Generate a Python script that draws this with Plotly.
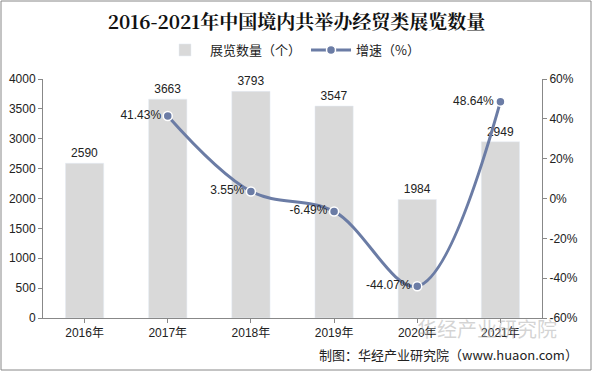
import plotly.graph_objects as go

years = ["2016年", "2017年", "2018年", "2019年", "2020年", "2021年"]
counts = [2590, 3663, 3793, 3547, 1984, 2949]
growth_years = ["2017年", "2018年", "2019年", "2020年", "2021年"]
growth = [41.43, 3.55, -6.49, -44.07, 48.64]
left_ticks = [0, 500, 1000, 1500, 2000, 2500, 3000, 3500, 4000]
right_ticks = [-60, -40, -20, 0, 20, 40, 60]

font_cjk = "Arial, Liberation Sans, Noto Sans CJK SC"
line_color = "#6B7CA5"

fig = go.Figure()
fig.add_trace(go.Bar(
    x=years, y=counts, name="展览数量（个）",
    marker=dict(color="#D9D9D9"), width=0.46,
    text=[str(v) for v in counts], textposition="outside",
    textfont=dict(size=12, color="#222222", family=font_cjk),
    cliponaxis=False,
))
fig.add_trace(go.Scatter(
    x=growth_years, y=growth, name="增速（%）", yaxis="y2",
    mode="lines+markers+text",
    line=dict(color=line_color, width=3, shape="spline", smoothing=1.0),
    marker=dict(size=9, color=line_color, line=dict(color="white", width=1.5)),
    text=[f"{v:.2f}%" for v in growth], textposition="middle left",
    textfont=dict(size=12, color="#222222", family=font_cjk),
    cliponaxis=False,
))

fig.update_layout(
    width=593, height=372,
    paper_bgcolor="white", plot_bgcolor="white",
    margin=dict(l=43, r=51, t=79, b=54, autoexpand=False),
    title=dict(text="<b>2016-2021年中国境内共举办经贸类展览数量</b>",
               x=0.5, xanchor="center", y=1 - 22 / 372, yanchor="middle",
               font=dict(size=19, color="#111111", family="Noto Serif CJK SC, Noto Sans CJK SC")),
    legend=dict(orientation="h", x=0.5, xanchor="center", y=1 + 29 / 239, yanchor="middle",
                font=dict(size=13, color="#222222", family="Noto Sans CJK SC"),
                bgcolor="rgba(0,0,0,0)", itemwidth=40, tracegroupgap=0),
    showlegend=True,
    xaxis=dict(showline=True, linecolor="#888888", linewidth=1, ticks="outside",
               ticklen=4, tickcolor="#888888",
               tickfont=dict(size=12, color="#222222", family=font_cjk),
               showgrid=False),
    yaxis=dict(range=[0, 4000], tickvals=left_ticks, showline=True, linecolor="#888888",
               ticks="outside", ticklen=4, tickcolor="#888888", showgrid=False,
               zeroline=False,
               tickfont=dict(size=12, color="#222222", family=font_cjk)),
    yaxis2=dict(range=[-60, 60], tickvals=right_ticks, ticktext=[f"{v}%" for v in right_ticks],
                overlaying="y", side="right", showline=True, linecolor="#888888",
                ticks="outside", ticklen=4, tickcolor="#888888", showgrid=False,
                zeroline=False,
                tickfont=dict(size=12, color="#222222", family=font_cjk)),
)

fig.add_shape(type="rect", xref="paper", yref="paper", x0=-42 / 499, x1=(499 + 49) / 499,
              y0=-52 / 239, y1=(239 + 78) / 239, line=dict(color="#888888", width=1))

fig.add_annotation(text="华经产业研究院", xref="paper", yref="paper", x=1.035, y=-10 / 239,
                   xanchor="right", yanchor="middle", showarrow=False,
                   font=dict(size=20, color="rgba(170,170,170,0.5)", family="Noto Sans CJK SC"))
fig.add_annotation(text="制图：华经产业研究院（www.huaon.com）", xref="paper", yref="paper",
                   x=1 + 38 / 499, y=-36 / 239, xanchor="right", yanchor="middle", showarrow=False,
                   font=dict(size=13, color="#222222", family="Noto Sans CJK SC"))

fig.write_html("out.html", config={"displayModeBar": False},
               post_script="document.body.style.margin='0';")
